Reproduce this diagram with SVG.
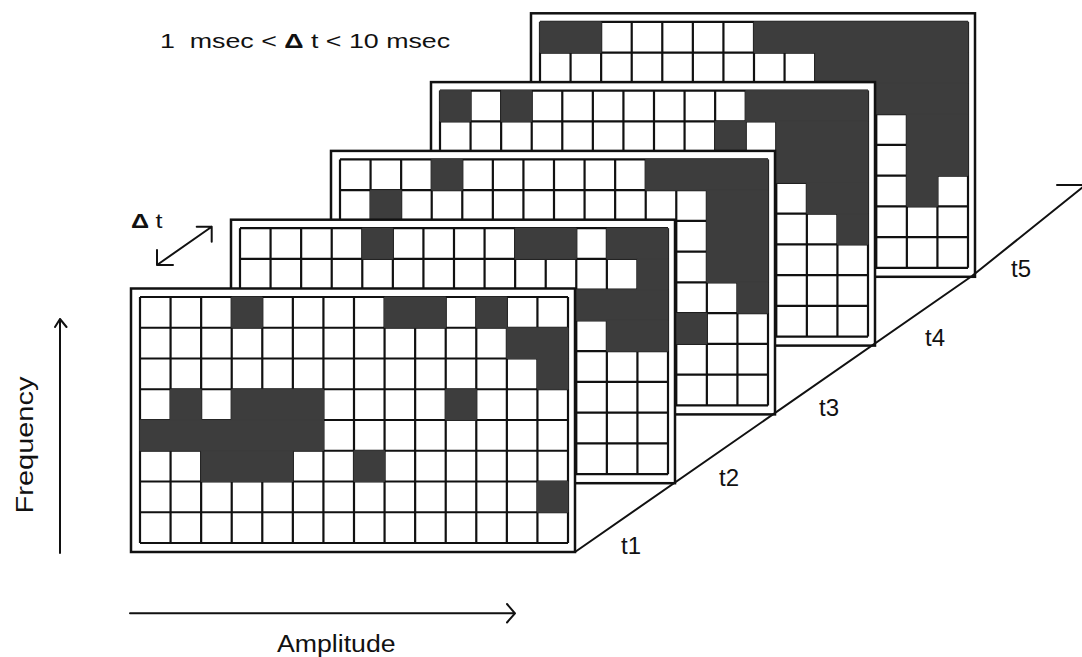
<svg xmlns="http://www.w3.org/2000/svg" xmlns:xlink="http://www.w3.org/1999/xlink" width="1082" height="657" viewBox="0 0 1082 657">
<style>
.fr{fill:#fff;stroke:#111;stroke-width:2.5}
.bg{fill:#fff}
.d{fill:#3d3d3d;stroke:#3d3d3d;stroke-width:1}
.ln{fill:none;stroke:#111;stroke-width:2;stroke-linecap:round;stroke-linejoin:round}
.tx{font-family:"Liberation Sans",Arial,Helvetica,sans-serif;fill:#111}
</style>
<defs>
<path id="gl" fill="none" stroke="#111" stroke-width="2.2" vector-effect="non-scaling-stroke" d="M0 0V8M1 0V8M2 0V8M3 0V8M4 0V8M5 0V8M6 0V8M7 0V8M8 0V8M9 0V8M10 0V8M11 0V8M12 0V8M13 0V8M14 0V8M0 0H14M0 1H14M0 2H14M0 3H14M0 4H14M0 5H14M0 6H14M0 7H14M0 8H14"/>
</defs>
<rect width="1082" height="657" fill="#fff"/>

<g id="frame-t5" transform="translate(540,21.8)">
<rect class="fr" x="-9" y="-8.5" width="444" height="263.5"/>
<g transform="scale(30.5714,30.75)">
<rect class="bg" width="14" height="8"/>
<use xlink:href="#gl" href="#gl"/>
<g class="d">
<rect x="0" y="0" width="2" height="1" vector-effect="non-scaling-stroke"/>
<rect x="7" y="0" width="7" height="1" vector-effect="non-scaling-stroke"/>
<rect x="9" y="1" width="5" height="1" vector-effect="non-scaling-stroke"/>
<rect x="11" y="2" width="3" height="1" vector-effect="non-scaling-stroke"/>
<rect x="12" y="3" width="2" height="2" vector-effect="non-scaling-stroke"/>
<rect x="12" y="5" width="1" height="1" vector-effect="non-scaling-stroke"/>
</g>
</g>
</g>

<g id="frame-t4" transform="translate(440,90.6)">
<rect class="fr" x="-9" y="-8.5" width="444" height="263.5"/>
<g transform="scale(30.5714,30.75)">
<rect class="bg" width="14" height="8"/>
<use xlink:href="#gl" href="#gl"/>
<g class="d">
<rect x="0" y="0" width="1" height="1" vector-effect="non-scaling-stroke"/>
<rect x="2" y="0" width="1" height="1" vector-effect="non-scaling-stroke"/>
<rect x="10" y="0" width="4" height="1" vector-effect="non-scaling-stroke"/>
<rect x="9" y="1" width="1" height="1" vector-effect="non-scaling-stroke"/>
<rect x="11" y="1" width="3" height="2" vector-effect="non-scaling-stroke"/>
<rect x="12" y="3" width="2" height="1" vector-effect="non-scaling-stroke"/>
<rect x="13" y="4" width="1" height="1" vector-effect="non-scaling-stroke"/>
</g>
</g>
</g>

<g id="frame-t3" transform="translate(340,159.4)">
<rect class="fr" x="-9" y="-8.5" width="444" height="263.5"/>
<g transform="scale(30.5714,30.75)">
<rect class="bg" width="14" height="8"/>
<use xlink:href="#gl" href="#gl"/>
<g class="d">
<rect x="3" y="0" width="1" height="1" vector-effect="non-scaling-stroke"/>
<rect x="10" y="0" width="4" height="1" vector-effect="non-scaling-stroke"/>
<rect x="1" y="1" width="1" height="1" vector-effect="non-scaling-stroke"/>
<rect x="12" y="1" width="2" height="3" vector-effect="non-scaling-stroke"/>
<rect x="13" y="4" width="1" height="1" vector-effect="non-scaling-stroke"/>
<rect x="11" y="5" width="1" height="1" vector-effect="non-scaling-stroke"/>
</g>
</g>
</g>

<g id="frame-t2" transform="translate(240,228.2)">
<rect class="fr" x="-9" y="-8.5" width="444" height="263.5"/>
<g transform="scale(30.5714,30.75)">
<rect class="bg" width="14" height="8"/>
<use xlink:href="#gl" href="#gl"/>
<g class="d">
<rect x="4" y="0" width="1" height="1" vector-effect="non-scaling-stroke"/>
<rect x="9" y="0" width="2" height="1" vector-effect="non-scaling-stroke"/>
<rect x="12" y="0" width="2" height="1" vector-effect="non-scaling-stroke"/>
<rect x="13" y="1" width="1" height="1" vector-effect="non-scaling-stroke"/>
<rect x="11" y="2" width="3" height="1" vector-effect="non-scaling-stroke"/>
<rect x="12" y="3" width="2" height="1" vector-effect="non-scaling-stroke"/>
</g>
</g>
</g>

<g id="frame-t1" transform="translate(140,297)">
<rect class="fr" x="-9" y="-8.5" width="444" height="263.5"/>
<g transform="scale(30.5714,30.75)">
<rect class="bg" width="14" height="8"/>
<use xlink:href="#gl" href="#gl"/>
<g class="d">
<rect x="3" y="0" width="1" height="1" vector-effect="non-scaling-stroke"/>
<rect x="8" y="0" width="2" height="1" vector-effect="non-scaling-stroke"/>
<rect x="11" y="0" width="1" height="1" vector-effect="non-scaling-stroke"/>
<rect x="12" y="1" width="2" height="1" vector-effect="non-scaling-stroke"/>
<rect x="13" y="2" width="1" height="1" vector-effect="non-scaling-stroke"/>
<rect x="1" y="3" width="1" height="1" vector-effect="non-scaling-stroke"/>
<rect x="3" y="3" width="3" height="1" vector-effect="non-scaling-stroke"/>
<rect x="10" y="3" width="1" height="1" vector-effect="non-scaling-stroke"/>
<rect x="0" y="4" width="6" height="1" vector-effect="non-scaling-stroke"/>
<rect x="2" y="5" width="3" height="1" vector-effect="non-scaling-stroke"/>
<rect x="7" y="5" width="1" height="1" vector-effect="non-scaling-stroke"/>
<rect x="13" y="6" width="1" height="1" vector-effect="non-scaling-stroke"/>
</g>
</g>
</g>

<g id="connectors">
<polyline class="ln" points="575,552 972,276 1083,187"/>
<path class="ln" d="M1057 185H1083"/>
<path id="freq-arrow" class="ln" d="M60 553V319M55 327L60 319L66.5 327"/>
<path id="amp-arrow" class="ln" d="M130 613.3H515M507 604L515 613.3L507 622.5"/>
<path id="dt-arrow" class="ln" d="M157 265L211.7 226.7M196.7 226.7H211.7V241.7M157 250V265H173"/>
</g>

<g id="labels">
<text class="tx" transform="translate(160,48) scale(1.34,1)" x="0" y="0" font-size="20" style="white-space:pre">1  msec &lt; <tspan font-weight="bold">Δ</tspan> t &lt; 10 msec</text>
<text class="tx" transform="translate(131,228) scale(1.2,1)" x="0" y="0" font-size="21"><tspan font-weight="bold">Δ</tspan><tspan x="20.5">t</tspan></text>
<text class="tx" transform="translate(33,445) rotate(-90) scale(1.26,1)" x="0" y="0" font-size="23" text-anchor="middle">Frequency</text>
<text class="tx" transform="translate(277,652) scale(1.16,1)" x="0" y="0" font-size="23">Amplitude</text>
<text class="tx" x="621" y="554" font-size="24">t1</text>
<text class="tx" x="719" y="486" font-size="24">t2</text>
<text class="tx" x="819" y="416" font-size="24">t3</text>
<text class="tx" x="925" y="346" font-size="24">t4</text>
<text class="tx" x="1011" y="277" font-size="24">t5</text>
</g>
</svg>
